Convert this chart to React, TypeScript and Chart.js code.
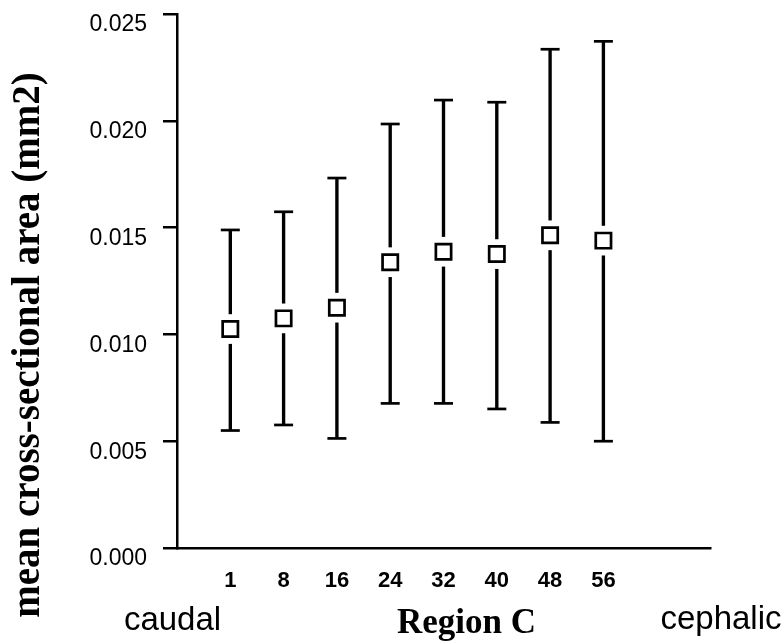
import React, { useEffect, useRef } from 'react';
import { Chart, registerables } from 'chart.js';

Chart.register(...registerables);

// ---- data ----
const regions = ['1', '8', '16', '24', '32', '40', '48', '56'];
const meanArea = [0.01025, 0.01075, 0.01125, 0.01338, 0.01387, 0.01376, 0.01464, 0.01439];
const upperArea = [0.01489, 0.01574, 0.01732, 0.01985, 0.02097, 0.02087, 0.02335, 0.02372];
const lowerArea = [0.0055, 0.00576, 0.00513, 0.00677, 0.00677, 0.00651, 0.00588, 0.005];
const yTicks = [0, 0.005, 0.01, 0.015, 0.02, 0.025];
const yTitle = 'mean cross-sectional area (mm2)';
const xTitle = 'Region C';
const leftNote = 'caudal';
const rightNote = 'cephalic';

const SANS = '"Liberation Sans", Arial, Helvetica, sans-serif';
const SERIF = '"Liberation Serif", "Times New Roman", serif';

const freeTextPlugin = {
  id: 'freeText',
  afterDraw(chart: any) {
    const ctx = chart.ctx as CanvasRenderingContext2D;
    ctx.save();
    ctx.fillStyle = '#000';
    ctx.textBaseline = 'alphabetic';
    ctx.textAlign = 'center';

    // rotated y title
    ctx.save();
    ctx.font = `bold 39px ${SERIF}`;
    ctx.translate(39, 345);
    ctx.rotate(-Math.PI / 2);
    ctx.fillText(yTitle, 0, 0);
    ctx.restore();

    ctx.font = `33px ${SANS}`;
    ctx.fillText(leftNote, 172.5, 630);
    ctx.fillText(rightNote, 721, 629);

    ctx.font = `bold 35px ${SERIF}`;
    ctx.fillText(xTitle, 466.5, 633);
    ctx.restore();
  },
};

export default function App() {
  const ref = useRef<HTMLCanvasElement>(null);

  useEffect(() => {
    if (!ref.current) return;
    const idx = regions.map((_, i) => i + 1);
    const chart = new Chart(ref.current, {
      type: 'scatter',
      data: {
        datasets: [
          {
            type: 'bar',
            label: 'range',
            data: idx.map((x, i) => ({ x, y: [lowerArea[i], upperArea[i]] })) as any,
            backgroundColor: '#000',
            borderWidth: 0,
            barThickness: 2.7,
            order: 5,
          } as any,
          {
            type: 'scatter',
            label: 'upper cap',
            data: idx.map((x, i) => ({ x, y: upperArea[i] })),
            pointStyle: 'line',
            radius: 9.5,
            borderWidth: 2.7,
            borderColor: '#000',
            order: 4,
          },
          {
            type: 'scatter',
            label: 'lower cap',
            data: idx.map((x, i) => ({ x, y: lowerArea[i] })),
            pointStyle: 'line',
            radius: 9.5,
            borderWidth: 2.7,
            borderColor: '#000',
            order: 4,
          },
          {
            type: 'scatter',
            label: 'gap',
            data: idx.map((x, i) => ({ x, y: meanArea[i] })),
            pointStyle: 'rect',
            radius: 21,
            backgroundColor: '#fff',
            borderWidth: 0,
            order: 2,
          },
          {
            type: 'scatter',
            label: 'mean',
            data: idx.map((x, i) => ({ x, y: meanArea[i] })),
            pointStyle: 'rect',
            radius: 10.8,
            backgroundColor: '#fff',
            borderColor: '#000',
            borderWidth: 2.7,
            order: 1,
          },
        ],
      },
      options: {
        responsive: false,
        animation: false,
        events: [],
        devicePixelRatio: 1,
        layout: { autoPadding: false, padding: { top: 14, right: 72, left: 0, bottom: 0 } },
        plugins: {
          legend: { display: false },
          tooltip: { enabled: false },
        },
        scales: {
          x: {
            type: 'linear',
            min: 0,
            max: 10,
            offset: false,
            afterBuildTicks: (s: any) => {
              s.ticks = [0, ...idx].map((v) => ({ value: v }));
            },
            afterFit: (s: any) => {
              s.height = 94;
              s.paddingLeft = 0;
              s.paddingRight = 0;
            },
            ticks: {
              autoSkip: false,
              maxRotation: 0,
              padding: 6,
              color: '#000',
              font: { family: SANS, size: 22, weight: 'bold' },
              callback: (v: any) => (v === 0 ? '' : regions[v - 1]),
            },
            grid: {
              drawOnChartArea: false,
              drawTicks: true,
              tickLength: 14,
              lineWidth: 2.5,
              color: (c: any) => (c.tick && c.tick.value === 0 ? '#000' : 'rgba(0,0,0,0)'),
            },
            border: { display: true, color: '#000', width: 2.5 },
          },
          y: {
            type: 'linear',
            min: 0,
            max: 0.025,
            afterBuildTicks: (s: any) => {
              s.ticks = yTicks.map((v) => ({ value: v }));
            },
            afterFit: (s: any) => {
              s.width = 177;
              s.paddingTop = 0;
              s.paddingBottom = 0;
            },
            ticks: {
              padding: 16,
              labelOffset: 11,
              color: '#000',
              font: { family: SANS, size: 23 },
              callback: (v: any) => Number(v).toFixed(3),
            },
            grid: {
              drawOnChartArea: false,
              drawTicks: true,
              tickLength: 14,
              lineWidth: 2.5,
              color: '#000',
            },
            border: { display: true, color: '#000', width: 2.5 },
          },
        },
      },
      plugins: [freeTextPlugin],
    } as any);
    return () => chart.destroy();
  }, []);

  return (
    <div style={{ position: 'absolute', left: 0, top: 0, width: 782, height: 642, background: '#fff' }}>
      <canvas ref={ref} width={782} height={642} style={{ display: 'block', width: 782, height: 642 }} />
    </div>
  );
}
